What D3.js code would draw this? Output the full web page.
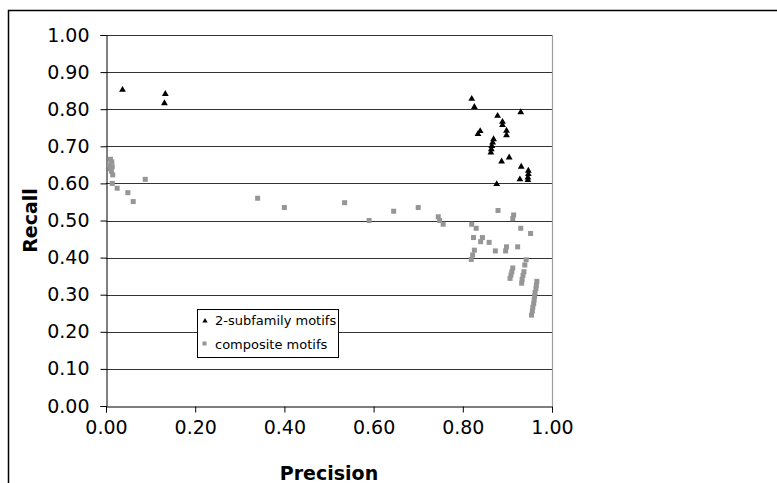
<!DOCTYPE html>
<html><head><meta charset="utf-8">
<script src="https://cdn.jsdelivr.net/npm/d3@7"></script>
<style>body{margin:0;background:#fff}svg{display:block}text{font-family:"DejaVu Sans",Verdana,sans-serif}</style>
</head><body><svg id="c" width="777" height="483"></svg>
<script>
const xTicks = [0, 0.2, 0.4, 0.6, 0.8, 1.0];
const yTicks = [0, 0.1, 0.2, 0.3, 0.4, 0.5, 0.6, 0.7, 0.8, 0.9, 1.0];
const seriesNames = ["2-subfamily motifs", "composite motifs"];
const subfamilyPrecision = [0.037,0.133,0.131,0.820,0.826,0.930,0.878,0.889,0.889,0.839,0.834,0.898,0.898,0.869,0.867,0.865,0.864,0.863,0.904,0.887,0.931,0.947,0.947,0.946,0.928,0.946,0.876];
const subfamilyRecall    = [0.852,0.841,0.816,0.828,0.806,0.792,0.782,0.766,0.757,0.741,0.733,0.742,0.730,0.719,0.710,0.701,0.692,0.683,0.670,0.659,0.645,0.634,0.625,0.616,0.611,0.609,0.598];
const compositePrecision = [0.010,0.013,0.008,0.014,0.010,0.012,0.015,0.014,0.025,0.049,0.061,0.088,
  0.340,0.400,0.535,0.590,0.645,0.700,0.745,0.748,0.756,
  0.879,0.914,0.912,0.820,0.830,0.930,0.952,0.824,0.844,0.840,0.859,0.873,0.898,0.896,0.923,0.826,0.822,0.819,0.942,0.939,0.912,0.910,0.908,0.906,0.937,0.935,0.933,0.932,
  0.966,0.965,0.964,0.962,0.961,0.960,0.959,0.957,0.956,0.954];
const compositeRecall = [0.665,0.658,0.650,0.645,0.640,0.633,0.623,0.600,0.587,0.575,0.551,0.611,
  0.560,0.535,0.548,0.500,0.525,0.535,0.510,0.500,0.490,
  0.527,0.515,0.505,0.490,0.479,0.479,0.465,0.454,0.454,0.443,0.441,0.418,0.429,0.418,0.429,0.420,0.407,0.395,0.394,0.380,0.372,0.362,0.353,0.344,0.362,0.352,0.341,0.331,
  0.336,0.326,0.316,0.306,0.296,0.286,0.276,0.266,0.256,0.245];

const svg = d3.select("#c");
const L = 106, R = 552, T = 35, B = 406;
const x = d3.scaleLinear().domain([0,1]).range([L,R]);
const y = d3.scaleLinear().domain([0,1]).range([B,T]);

// outer chart frame (extends beyond the visible area)
svg.append("rect").attr("x",8.5).attr("y",10.5).attr("width",900).attr("height",600)
  .attr("fill","none").attr("stroke","#000").attr("stroke-width",1.5);

// gridlines
svg.append("g").selectAll("line").data(yTicks.filter(d=>d>0)).join("line")
  .attr("x1",L).attr("x2",R).attr("y1",d=>Math.round(y(d))+0.5).attr("y2",d=>Math.round(y(d))+0.5)
  .attr("stroke","#333").attr("stroke-width",1);
// plot right border
svg.append("line").attr("x1",R+0.5).attr("x2",R+0.5).attr("y1",T).attr("y2",B)
  .attr("stroke","#a0a0a0").attr("stroke-width",1.2);

const fmt = d3.format(".2f");
const gx = svg.append("g").attr("transform",`translate(0,${B+0.5})`)
  .call(d3.axisBottom(x).tickValues(xTicks).tickFormat(fmt).tickSize(6).tickPadding(8));
const gy = svg.append("g").attr("transform",`translate(${L+0.5},0)`)
  .call(d3.axisLeft(y).tickValues(yTicks).tickFormat(fmt).tickSize(6).tickPadding(11));
[gx,gy].forEach(g=>{
  g.select(".domain").attr("stroke","#000");
  g.selectAll(".tick line").attr("stroke","#000");
  g.selectAll("text").attr("font-size",19).attr("fill","#000").attr("font-family","DejaVu Sans");
});

// axis titles
svg.append("text").attr("x",(L+R)/2).attr("y",480).attr("text-anchor","middle")
  .attr("font-size",19).attr("font-weight","bold").text("Precision");
svg.append("text").attr("transform",`translate(37,${(T+B)/2}) rotate(-90)`).attr("text-anchor","middle")
  .attr("font-size",19).attr("font-weight","bold").text("Recall");

const tri = d3.symbol().type(d3.symbolTriangle).size(20);
// composite
svg.append("g").selectAll("rect").data(d3.range(compositePrecision.length)).join("rect")
  .attr("x",i=>x(compositePrecision[i])-2.5).attr("y",i=>y(compositeRecall[i])-2.5)
  .attr("width",5).attr("height",5).attr("fill","#969696");
// 2-subfamily
svg.append("g").selectAll("path").data(d3.range(subfamilyPrecision.length)).join("path")
  .attr("d",tri).attr("transform",i=>`translate(${x(subfamilyPrecision[i])},${y(subfamilyRecall[i])})`)
  .attr("fill","#000");

// legend
const lg = svg.append("g");
lg.append("rect").attr("x",197.5).attr("y",309.5).attr("width",141).attr("height",48)
  .attr("fill","#fff").attr("stroke","#000");
lg.append("path").attr("d",d3.symbol().type(d3.symbolTriangle).size(12)).attr("transform","translate(205,321)").attr("fill","#000");
lg.append("rect").attr("x",202.5).attr("y",341.5).attr("width",4).attr("height",4).attr("fill","#969696");
lg.append("text").attr("x",215).attr("y",325).attr("font-size",13).text(seriesNames[0]);
lg.append("text").attr("x",215).attr("y",349).attr("font-size",13).text(seriesNames[1]);
</script></body></html>
